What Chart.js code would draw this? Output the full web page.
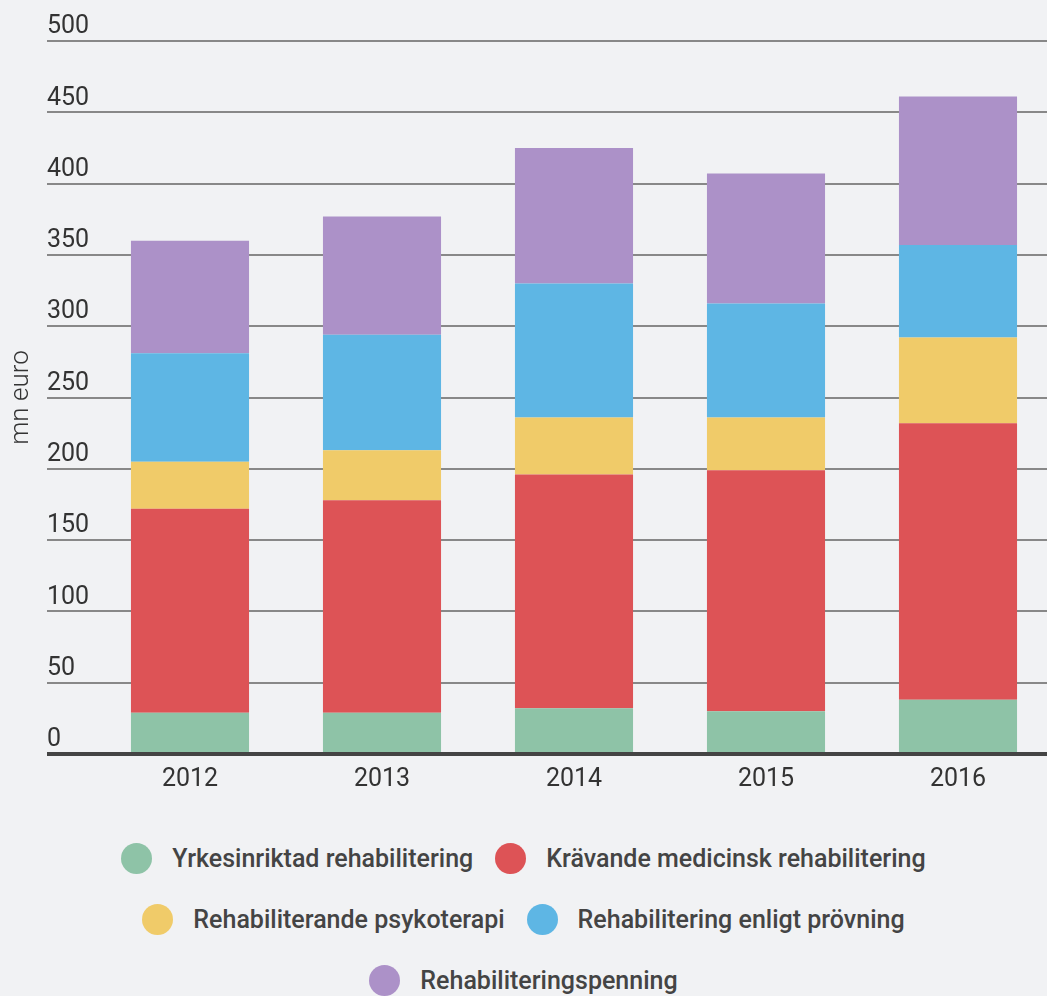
<!DOCTYPE html>
<html>
<head>
<meta charset="utf-8">
<script src="https://cdn.jsdelivr.net/npm/chart.js@4/dist/chart.umd.min.js"></script>
<style>
  html, body { margin: 0; padding: 0; background: #f1f2f4; overflow: hidden; }
  body { width: 1047px; height: 996px; position: relative; font-family: Roboto, sans-serif; }
  #wrap { position: absolute; left: 0; top: 0; width: 1054px; height: 800px; }
  #legend {
    position: absolute; left: 0; top: 828px; width: 1047px;
    display: flex; justify-content: center;
  }
  #legend ul {
    list-style: none; margin: 0; padding: 0; max-width: 830px;
    display: flex; flex-wrap: wrap; justify-content: center; column-gap: 22px;
  }
  #legend li { display: flex; align-items: center; height: 61px; }
  #legend .dot { width: 31px; height: 31px; border-radius: 50%; margin-right: 20px; }
  #legend .txt { font-size: 25px; font-weight: 500; color: #444; }
</style>
</head>
<body>
<div id="wrap"><canvas id="chart"></canvas></div>
<div id="legend"><ul></ul></div>
<script>
const years = ["2012", "2013", "2014", "2015", "2016"];
const yrkesinriktad = [29, 29, 32, 30, 38];
const kravande = [143, 149, 164, 169, 194];
const psykoterapi = [33, 35, 40, 37, 60];
const provning = [76, 81, 94, 80, 65];
const penning = [79, 83, 95, 91, 104];
const seriesNames = [
  "Yrkesinriktad rehabilitering",
  "Krävande medicinsk rehabilitering",
  "Rehabiliterande psykoterapi",
  "Rehabilitering enligt prövning",
  "Rehabiliteringspenning"
];
const colors = ["#8ec3a7", "#dd5356", "#f0cb69", "#5eb6e4", "#ac91c8"];

document.addEventListener("DOMContentLoaded", () => {
  const series = [yrkesinriktad, kravande, psykoterapi, provning, penning];

  const datasets = series.map((values, i) => ({
    label: seriesNames[i],
    data: values,
    backgroundColor: colors[i],
    borderWidth: 0,
    barPercentage: 0.615,
    categoryPercentage: 1
  }));

  const chart = new Chart(document.getElementById("chart"), {
    type: "bar",
    data: { labels: years, datasets },
    options: {
      responsive: true,
      maintainAspectRatio: false,
      animation: false,
      layout: { padding: { top: 41, right: 0, bottom: 0, left: 0 } },
      plugins: {
        legend: { display: false },
        tooltip: { enabled: false }
      },
      scales: {
        x: {
          stacked: true,
          grid: { display: false },
          border: { display: false },
          ticks: {
            color: "#333",
            font: { family: "Roboto", size: 25 },
            padding: 3
          },
          afterFit: (scale) => { scale.height = 46; }
        },
        y: {
          stacked: true,
          min: 0,
          max: 500,
          border: { display: false },
          grid: {
            color: (c) => c.tick && c.tick.value === 0 ? "#444" : "#888",
            lineWidth: (c) => c.tick && c.tick.value === 0 ? 4 : 2,
            drawTicks: true,
            tickLength: 47
          },
          ticks: {
            stepSize: 50,
            mirror: true,
            crossAlign: "near",
            padding: -47,
            labelOffset: -14,
            color: "#333",
            font: { family: "Roboto", size: 25 }
          },
          title: {
            display: true,
            text: "mn euro",
            color: "#333",
            font: { family: "Roboto", size: 26, weight: 300 },
            padding: { top: 6, bottom: 0 }
          },
          afterFit: (scale) => { scale.width = 94; }
        }
      }
    }
  });

  // legend below the chart, wraps like the original
  const ul = document.querySelector("#legend ul");
  chart.data.datasets.forEach((ds) => {
    const li = document.createElement("li");
    const dot = document.createElement("span");
    dot.className = "dot";
    dot.style.background = ds.backgroundColor;
    const txt = document.createElement("span");
    txt.className = "txt";
    txt.textContent = ds.label;
    li.appendChild(dot);
    li.appendChild(txt);
    ul.appendChild(li);
  });
});
</script>
</body>
</html>
